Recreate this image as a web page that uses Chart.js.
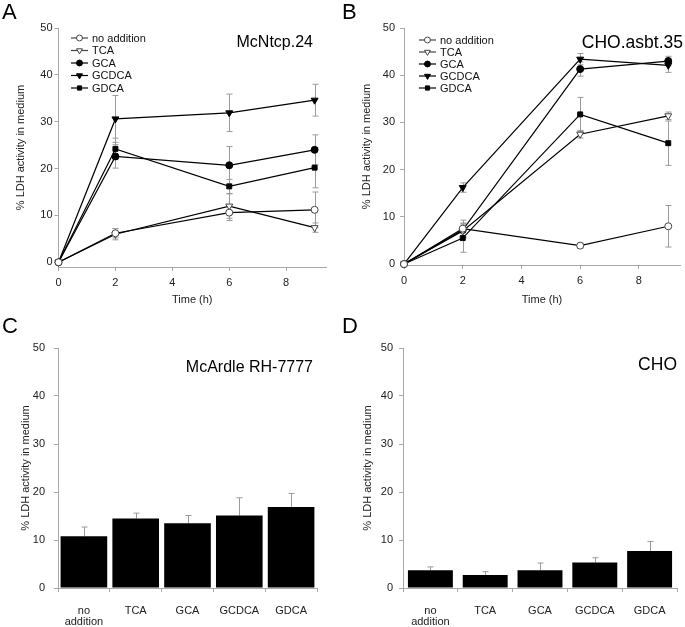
<!DOCTYPE html>
<html>
<head>
<meta charset="utf-8">
<script src="https://cdn.jsdelivr.net/npm/chart.js@4.4.1/dist/chart.umd.min.js"></script>
<style>
  body { margin: 0; background: #fff; font-family: "Liberation Sans", Arial, sans-serif; }
  #wrap { position: relative; width: 685px; height: 627px; overflow: hidden; }
  canvas { position: absolute; }
  .letter { position: absolute; font-size: 22px; line-height: 22px; color: #000; }
  .name { position: absolute; line-height: 1; color: #000; white-space: nowrap; }
</style>
</head>
<body>
<div id="wrap">
  <canvas id="chartA" width="342" height="310" style="left:0;top:0"></canvas>
  <canvas id="chartB" width="343" height="310" style="left:342px;top:0"></canvas>
  <canvas id="chartC" width="342" height="317" style="left:0;top:310px"></canvas>
  <canvas id="chartD" width="343" height="317" style="left:342px;top:310px"></canvas>

  <div class="letter" style="left:2px;top:1px">A</div>
  <div class="letter" style="left:342px;top:1px">B</div>
  <div class="letter" style="left:2px;top:315px">C</div>
  <div class="letter" style="left:342px;top:315px">D</div>

  <div class="name" style="right:372px;top:34px;font-size:16px">McNtcp.24</div>
  <div class="name" style="right:2px;top:34px;font-size:17.5px">CHO.asbt.35</div>
  <div class="name" style="right:372px;top:359px;font-size:16px">McArdle RH-7777</div>
  <div class="name" style="right:8px;top:356px;font-size:17.5px">CHO</div>
</div>

<script>
// time points (h)
const timeHours = [0, 2, 6, 9];
const timeTicks = [0, 2, 4, 6, 8];
const yTicks = [0, 10, 20, 30, 40, 50];
const seriesNames = ["no addition", "TCA", "GCA", "GCDCA", "GDCA"];

// Panel A - McNtcp.24
const aNoAddition = [0, 6.2, 10.6, 11.2];
const aNoAdditionErr = [0, 1.0, 1.7, 3.8];
const aTCA = [0, 6.0, 12.0, 7.4];
const aTCAErr = [0, 1.2, 2.6, 1.0];
const aGCA = [0, 22.6, 20.7, 24.0];
const aGCAErr = [0, 2.5, 4.0, 3.2];
const aGCDCA = [0, 30.6, 31.9, 34.6];
const aGCDCAErr = [0, 5.0, 4.0, 3.4];
const aGDCA = [0, 24.2, 16.2, 20.2];
const aGDCAErr = [0, 2.3, 1.5, 4.3];

// Panel B - CHO.asbt.35
const bNoAddition = [0, 7.5, 3.9, 8.0];
const bNoAdditionErr = [0, 1.8, 0.5, 4.4];
const bTCA = [0, 7.0, 27.5, 31.4];
const bTCAErr = [0, 1.5, 0.8, 0.8];
const bGCA = [0, 7.2, 41.3, 43.0];
const bGCAErr = [0, 1.5, 1.5, 1.0];
const bGCDCA = [0, 16.2, 43.4, 42.1];
const bGCDCAErr = [0, 1.0, 1.2, 1.5];
const bGDCA = [0, 5.5, 31.7, 25.6];
const bGDCAErr = [0, 3.0, 3.6, 4.7];

// Panels C and D - bar charts
const barLabels = [["no", "addition"], "TCA", "GCA", "GCDCA", "GDCA"];
const cValues = [10.8, 14.5, 13.5, 15.1, 16.9];
const cErrors = [1.9, 1.1, 1.6, 3.7, 2.8];
const dValues = [3.7, 2.7, 3.7, 5.3, 7.7];
const dErrors = [0.7, 0.7, 1.5, 1.0, 2.0];

const FONT = '"Liberation Sans", Arial, sans-serif';
const AXIS_GREY = '#a8a8a8';

// marker look for each series
const markers = [
  { style: 'circle', rotation: 0, radius: 3.5, fill: '#fff' },
  { style: 'triangle', rotation: 180, radius: 4, fill: '#fff' },
  { style: 'circle', rotation: 0, radius: 3.5, fill: '#000' },
  { style: 'triangle', rotation: 180, radius: 4, fill: '#000' },
  { style: 'rect', rotation: 0, radius: 3.5, fill: '#000' }
];

// vertical error bars, drawn under the data
const errorBars = {
  id: 'errorBars',
  beforeDatasetsDraw(chart, args, opts) {
    const ctx = chart.ctx;
    const yScale = chart.scales.y;
    ctx.save();
    ctx.strokeStyle = '#9a9a9a';
    ctx.lineWidth = 1;
    chart.data.datasets.forEach((ds, i) => {
      if (!ds.errors) return;
      const meta = chart.getDatasetMeta(i);
      meta.data.forEach((el, j) => {
        const err = ds.errors[j];
        if (!err) return;
        const v = typeof ds.data[j] === 'object' ? ds.data[j].y : ds.data[j];
        const top = yScale.getPixelForValue(v + err);
        const bottom = opts.upOnly ? yScale.getPixelForValue(v) : yScale.getPixelForValue(v - err);
        const x = Math.round(el.x) + 0.5;
        ctx.beginPath();
        ctx.moveTo(x, bottom);
        ctx.lineTo(x, top);
        ctx.moveTo(x - 3, top);
        ctx.lineTo(x + 3, top);
        if (!opts.upOnly) {
          ctx.moveTo(x - 3, bottom);
          ctx.lineTo(x + 3, bottom);
        }
        ctx.stroke();
      });
    });
    ctx.restore();
  }
};

// legend in the top-left of the plot: line sample with marker, then label
const inlineLegend = {
  id: 'inlineLegend',
  afterDraw(chart, args, opts) {
    if (!opts.display) return;
    const ctx = chart.ctx;
    ctx.save();
    ctx.font = '11px ' + FONT;
    ctx.textBaseline = 'middle';
    chart.data.datasets.forEach((ds, i) => {
      const y = opts.y + i * opts.spacing;
      ctx.strokeStyle = ds.filled ? '#000' : '#444';
      ctx.lineWidth = 1.2;
      ctx.beginPath();
      ctx.moveTo(opts.x, y);
      ctx.lineTo(opts.x + 17, y);
      ctx.stroke();
      ctx.fillStyle = ds.pointBackgroundColor;
      ctx.strokeStyle = ds.pointBorderColor;
      ctx.lineWidth = 1;
      Chart.helpers.drawPoint(ctx, {
        pointStyle: ds.pointStyle,
        rotation: ds.pointRotation,
        radius: ds.pointRadius * 0.85,
        borderWidth: 1
      }, opts.x + 8.5, y);
      ctx.fillStyle = '#111';
      ctx.fillText(ds.label, opts.x + 21, y + 0.5);
    });
    ctx.restore();
  }
};

function lineSeries(label, values, errors, idx) {
  const m = markers[idx];
  return {
    label: label,
    data: timeHours.map((t, i) => ({ x: t, y: values[i] })),
    errors: errors,
    filled: m.fill === '#000',
    borderColor: '#000',
    borderWidth: 1.2,
    pointStyle: m.style,
    pointRotation: m.rotation,
    pointRadius: m.radius,
    pointBackgroundColor: m.fill,
    pointBorderColor: m.fill === '#000' ? '#000' : '#444',
    pointBorderWidth: 1,
    tension: 0,
    clip: false
  };
}

function axisCommon() {
  return {
    border: { display: true, color: AXIS_GREY, width: 1 },
    grid: { drawOnChartArea: false, drawTicks: true, tickLength: 4, color: AXIS_GREY }
  };
}

function makeLineChart(id, series, cfg) {
  const names = seriesNames;
  new Chart(document.getElementById(id), {
    type: 'line',
    data: { datasets: series.map((s, i) => lineSeries(names[i], s[0], s[1], i)) },
    options: {
      responsive: false,
      animation: false,
      events: [],
      layout: { padding: { top: cfg.top, right: cfg.right, bottom: 0, left: 0 } },
      scales: {
        x: Object.assign(axisCommon(), {
          type: 'linear',
          min: 0,
          max: 9.4,
          afterBuildTicks: (scale) => { scale.ticks = timeTicks.map(v => ({ value: v })); },
          afterFit: (scale) => { scale.height = cfg.xHeight; },
          ticks: { color: '#222', font: { family: FONT, size: 11 }, padding: 5, maxRotation: 0 },
          title: { display: true, text: 'Time (h)', color: '#222', font: { family: FONT, size: 11 }, padding: { top: 0, bottom: cfg.xTitlePad } }
        }),
        y: Object.assign(axisCommon(), {
          min: cfg.yMin,
          max: 50,
          afterBuildTicks: (scale) => { scale.ticks = yTicks.map(v => ({ value: v })); },
          afterFit: (scale) => { scale.width = cfg.yWidth; },
          ticks: { color: '#222', font: { family: FONT, size: 11 }, padding: cfg.yPad },
          title: { display: true, text: '% LDH activity in medium', color: '#222', font: { family: FONT, size: 11 }, padding: { top: cfg.yTitlePad, bottom: 0 } }
        })
      },
      plugins: {
        legend: { display: false },
        tooltip: { enabled: false },
        errorBars: { upOnly: false },
        inlineLegend: { display: true, x: cfg.legendX, y: cfg.legendY, spacing: cfg.legendSpacing }
      }
    },
    plugins: [errorBars, inlineLegend]
  });
}

function makeBarChart(id, values, errors, cfg) {
  new Chart(document.getElementById(id), {
    type: 'bar',
    data: {
      labels: barLabels,
      datasets: [{
        data: values,
        errors: errors,
        backgroundColor: '#000',
        borderWidth: 0,
        categoryPercentage: cfg.catPct,
        barPercentage: 1
      }]
    },
    options: {
      responsive: false,
      animation: false,
      events: [],
      layout: { padding: { top: cfg.top, right: cfg.right, bottom: 0, left: 0 } },
      scales: {
        x: Object.assign(axisCommon(), {
          afterFit: (scale) => { scale.height = cfg.xHeight; },
          ticks: { color: '#222', font: { family: FONT, size: 11, lineHeight: 1.05 }, padding: 13, maxRotation: 0 }
        }),
        y: Object.assign(axisCommon(), {
          min: 0,
          max: 50,
          afterBuildTicks: (scale) => { scale.ticks = yTicks.map(v => ({ value: v })); },
          afterFit: (scale) => { scale.width = cfg.yWidth; },
          ticks: { color: '#222', font: { family: FONT, size: 11 }, padding: cfg.yPad },
          title: { display: true, text: '% LDH activity in medium', color: '#222', font: { family: FONT, size: 11 }, padding: { top: cfg.yTitlePad, bottom: 0 } }
        })
      },
      plugins: {
        legend: { display: false },
        tooltip: { enabled: false },
        errorBars: { upOnly: true }
      }
    },
    plugins: [errorBars]
  });
}

makeLineChart('chartA', [
  [aNoAddition, aNoAdditionErr], [aTCA, aTCAErr], [aGCA, aGCAErr], [aGCDCA, aGCDCAErr], [aGDCA, aGDCAErr]
], { top: 28, right: 16, yWidth: 58.5, xHeight: 43, yMin: -1, yPad: 2, yTitlePad: 14, xTitlePad: 3,
     legendX: 71, legendY: 38, legendSpacing: 12.5 });

makeLineChart('chartB', [
  [bNoAddition, bNoAdditionErr], [bTCA, bTCAErr], [bGCA, bGCAErr], [bGCDCA, bGCDCAErr], [bGDCA, bGDCAErr]
], { top: 28, right: 2, yWidth: 62, xHeight: 45, yMin: -0.2, yPad: 5, yTitlePad: 18, xTitlePad: 3,
     legendX: 77, legendY: 40, legendSpacing: 12 });

makeBarChart('chartC', cValues, cErrors, { top: 38, right: 25, yWidth: 58, xHeight: 39, yPad: 9, yTitlePad: 19, catPct: 0.9 });
makeBarChart('chartD', dValues, dErrors, { top: 38, right: 8, yWidth: 61, xHeight: 39, yPad: 6, yTitlePad: 19, catPct: 0.82 });
</script>
</body>
</html>
